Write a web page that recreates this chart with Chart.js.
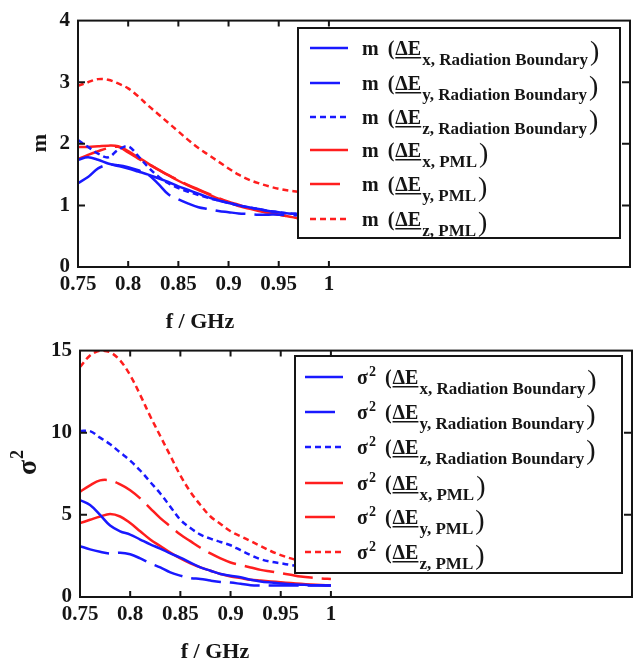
<!DOCTYPE html>
<html>
<head>
<meta charset="utf-8">
<script src="https://cdn.jsdelivr.net/npm/chart.js@4"></script>
<style>
body { margin: 0; background: #fff; }
#wrap { position: relative; width: 634px; height: 662px; }
canvas { position: absolute; left: 0; }
</style>
</head>
<body>
<div id="wrap">
<canvas id="chartM" width="634" height="330" style="top:0"></canvas>
<canvas id="chartS" width="634" height="332" style="top:330px"></canvas>
</div>
<script>
// frequency samples (GHz)
const freq = [0.75, 0.76, 0.77, 0.78, 0.79, 0.80, 0.81, 0.82, 0.83, 0.84, 0.85, 0.86, 0.87,
              0.88, 0.89, 0.90, 0.91, 0.92, 0.93, 0.94, 0.95, 0.96, 0.97, 0.98, 0.99, 1.00];
const xTicks = [0.75, 0.8, 0.85, 0.9, 0.95, 1];
const mTicks = [0, 1, 2, 3, 4];
const s2Ticks = [0, 5, 10, 15];
const legendSubs = ['x, Radiation Boundary', 'y, Radiation Boundary', 'z, Radiation Boundary',
                    'x, PML', 'y, PML', 'z, PML'];

// mean m
const mXRad = [1.74, 1.78, 1.74, 1.68, 1.64, 1.60, 1.55, 1.50, 1.44, 1.38, 1.31, 1.25, 1.19, 1.13, 1.08, 1.04, 1.00, 0.97, 0.94, 0.91, 0.89, 0.87, 0.86, 0.85, 0.84, 0.83];
const mYRad = [1.36, 1.46, 1.60, 1.66, 1.65, 1.62, 1.57, 1.50, 1.35, 1.18, 1.10, 1.03, 0.97, 0.94, 0.91, 0.89, 0.87, 0.86, 0.85, 0.85, 0.85, 0.84, 0.84, 0.83, 0.83, 0.82];
const mZRad = [2.06, 1.95, 1.84, 1.78, 1.90, 1.96, 1.80, 1.62, 1.47, 1.36, 1.28, 1.22, 1.17, 1.12, 1.08, 1.04, 1.00, 0.97, 0.94, 0.91, 0.89, 0.87, 0.86, 0.85, 0.84, 0.83];
const mXPml = [1.95, 1.95, 1.96, 1.97, 1.96, 1.88, 1.78, 1.68, 1.58, 1.49, 1.40, 1.32, 1.25, 1.18, 1.11, 1.05, 0.99, 0.95, 0.91, 0.88, 0.85, 0.82, 0.79, 0.77, 0.75, 0.74];
const mYPml = [1.75, 1.82, 1.88, 1.93, 1.95, 1.86, 1.76, 1.67, 1.58, 1.49, 1.41, 1.33, 1.26, 1.19, 1.12, 1.06, 1.01, 0.96, 0.92, 0.88, 0.85, 0.82, 0.79, 0.77, 0.75, 0.74];
const mZPml = [2.94, 3.00, 3.05, 3.04, 2.98, 2.90, 2.77, 2.62, 2.48, 2.34, 2.20, 2.06, 1.93, 1.82, 1.71, 1.60, 1.50, 1.42, 1.36, 1.31, 1.27, 1.24, 1.22, 1.20, 1.18, 1.16];

// variance sigma^2
const s2XRad = [5.9, 5.6, 5.0, 4.35, 4.0, 3.8, 3.5, 3.2, 2.95, 2.65, 2.4, 2.1, 1.8, 1.6, 1.4, 1.3, 1.2, 1.05, 0.95, 0.88, 0.82, 0.78, 0.75, 0.72, 0.71, 0.7];
const s2YRad = [3.1, 2.9, 2.75, 2.65, 2.7, 2.6, 2.35, 2.05, 1.8, 1.5, 1.3, 1.15, 1.1, 1.0, 0.92, 0.88, 0.8, 0.72, 0.7, 0.7, 0.7, 0.7, 0.7, 0.7, 0.7, 0.7];
const s2ZRad = [10.1, 10.1, 9.7, 9.3, 8.8, 8.3, 7.7, 7.0, 6.3, 5.5, 4.7, 4.2, 3.8, 3.55, 3.35, 3.15, 2.85, 2.55, 2.3, 2.15, 2.05, 1.95, 1.85, 1.75, 1.7, 1.65];
const s2XPml = [4.5, 4.7, 4.9, 5.05, 4.9, 4.5, 4.0, 3.5, 3.1, 2.7, 2.35, 2.05, 1.8, 1.6, 1.4, 1.25, 1.15, 1.05, 1.0, 0.95, 0.9, 0.85, 0.8, 0.76, 0.73, 0.7];
const s2YPml = [6.4, 6.8, 7.1, 7.1, 6.85, 6.5, 6.0, 5.4, 4.8, 4.3, 3.8, 3.4, 3.0, 2.65, 2.35, 2.1, 1.95, 1.8, 1.65, 1.55, 1.45, 1.35, 1.25, 1.18, 1.13, 1.1];
const s2ZPml = [14.0, 14.7, 15.0, 14.9, 14.4, 13.5, 12.3, 11.0, 9.8, 8.6, 7.4, 6.4, 5.6, 4.9, 4.45, 4.0, 3.7, 3.4, 3.1, 2.8, 2.55, 2.35, 2.2, 2.05, 1.95, 1.85];

const BLUE = 'rgb(25,25,255)';
const RED = 'rgb(255,30,30)';
const styles = [
  { color: BLUE, dash: [] }, { color: BLUE, dash: [30, 9] }, { color: BLUE, dash: [6, 4] },
  { color: RED, dash: [] }, { color: RED, dash: [30, 9] }, { color: RED, dash: [6, 4] }
];
const INK = '#151515';
const SERIF = '"Liberation Serif", "DejaVu Serif", serif';

function framePlugin(o) {
  return {
    id: 'frame',
    afterDatasetsDraw(chart) {
      const ctx = chart.ctx;
      const a = chart.chartArea;
      const xs = chart.scales.x, ys = chart.scales.y;
      ctx.save();
      // legend box
      const b = o.box;
      ctx.fillStyle = '#fff';
      ctx.fillRect(b.x, b.y, b.w, b.h);
      ctx.lineWidth = 2;
      ctx.strokeStyle = INK;
      ctx.strokeRect(b.x, b.y, b.w, b.h);
      o.rows.forEach((ry, i) => {
        const st = styles[i];
        ctx.strokeStyle = st.color;
        ctx.lineWidth = 2.5;
        ctx.setLineDash(st.dash);
        ctx.beginPath();
        ctx.moveTo(o.lineX0, ry);
        ctx.lineTo(o.lineX0 + 38, ry);
        ctx.stroke();
        ctx.setLineDash([]);

        ctx.fillStyle = INK;
        ctx.textAlign = 'left';
        ctx.textBaseline = 'alphabetic';
        const base = ry + 7;
        let tx = o.textX;
        ctx.font = 'bold 20px ' + SERIF;
        if (o.prefix === 'm') {
          ctx.fillText('m', tx, base);
          tx += ctx.measureText('m').width;
        } else {
          ctx.fillText('σ', tx, base);
          tx += ctx.measureText('σ').width + 1;
          ctx.font = 'bold 14px ' + SERIF;
          ctx.fillText('2', tx, base - 8);
          tx += ctx.measureText('2').width;
          ctx.font = 'bold 20px ' + SERIF;
        }
        tx += 9;
        ctx.fillText('(', tx, base);
        tx += ctx.measureText('(').width + 1;
        ctx.fillText('ΔE', tx, base);
        const we = ctx.measureText('ΔE').width;
        ctx.fillRect(tx, base + 2, we, 1.5);
        tx += we + 1;
        ctx.font = 'bold 17px ' + SERIF;
        ctx.fillText(legendSubs[i], tx, ry + 17);
        tx += ctx.measureText(legendSubs[i]).width + 2;
        ctx.font = '28px ' + SERIF;
        ctx.fillText(')', tx, ry + 12);
      });

      // axes frame with inward ticks
      ctx.strokeStyle = INK;
      ctx.lineWidth = 2;
      ctx.strokeRect(a.left, a.top, a.right - a.left, a.bottom - a.top);
      ctx.beginPath();
      xTicks.forEach(v => {
        if (v === xTicks[0]) return;
        const px = xs.getPixelForValue(v);
        ctx.moveTo(px, a.bottom); ctx.lineTo(px, a.bottom - 6);
        ctx.moveTo(px, a.top); ctx.lineTo(px, a.top + 6);
      });
      o.yTicks.forEach(v => {
        if (v === o.yTicks[0] || v === o.yTicks[o.yTicks.length - 1]) return;
        const py = ys.getPixelForValue(v);
        ctx.moveTo(a.left, py); ctx.lineTo(a.left + 7, py);
        ctx.moveTo(a.right, py); ctx.lineTo(a.right - 8, py);
      });
      ctx.stroke();
      ctx.restore();
    },
    afterDraw(chart) {
      const ctx = chart.ctx;
      ctx.save();
      ctx.fillStyle = INK;
      ctx.font = 'bold 22px ' + SERIF;
      ctx.textAlign = 'center';
      ctx.textBaseline = 'middle';
      ctx.fillText('f / GHz', o.xTitle.x, o.xTitle.y);
      ctx.translate(o.yTitle.x, o.yTitle.y);
      ctx.rotate(-Math.PI / 2);
      if (o.prefix === 'm') {
        ctx.fillText('m', 0, 0);
      } else {
        ctx.textAlign = 'left';
        ctx.font = 'bold 28px ' + SERIF;
        const w1 = ctx.measureText('σ').width;
        ctx.font = 'bold 18px ' + SERIF;
        const w2 = ctx.measureText('2').width;
        const x0 = -(w1 + w2) / 2;
        ctx.font = 'bold 28px ' + SERIF;
        ctx.fillText('σ', x0, 2);
        ctx.font = 'bold 18px ' + SERIF;
        ctx.fillText('2', x0 + w1 + 1, -9);
      }
      ctx.restore();
    }
  };
}

function makeChart(id, o) {
  const tickFont = { family: SERIF, size: 21, weight: 'bold' };
  return new Chart(document.getElementById(id), {
    type: 'line',
    data: {
      datasets: o.series.map((vals, i) => ({
        data: freq.map((f, j) => ({ x: f, y: vals[j] })),
        borderColor: styles[i].color,
        borderDash: styles[i].dash,
        borderWidth: 2.5,
        pointRadius: 0,
        tension: 0.35,
        fill: false
      }))
    },
    options: {
      responsive: false,
      animation: false,
      devicePixelRatio: 1,
      layout: { padding: { top: 15, right: o.rightPad, left: 0, bottom: 0 } },
      plugins: { legend: { display: false }, tooltip: { enabled: false } },
      scales: {
        x: {
          type: 'linear', min: 0.75, max: 1.3,
          grid: { display: false, drawTicks: false },
          border: { display: false },
          afterBuildTicks: s => { s.ticks = xTicks.map(v => ({ value: v })); },
          afterFit: s => { s.height = o.xAxisHeight; },
          ticks: { autoSkip: false, maxRotation: 0, padding: 5, color: INK, font: tickFont,
                   callback: v => String(v) }
        },
        y: {
          min: 0, max: o.yTicks[o.yTicks.length - 1],
          grid: { display: false, drawTicks: false },
          border: { display: false },
          afterBuildTicks: s => { s.ticks = o.yTicks.map(v => ({ value: v })); },
          afterFit: s => { s.width = o.chartLeft; },
          ticks: { padding: 8, color: INK, font: tickFont, callback: v => String(v) }
        }
      }
    },
    plugins: [framePlugin(o)]
  });
}

makeChart('chartM', {
  series: [mXRad, mYRad, mZRad, mXPml, mYPml, mZPml],
  yTicks: mTicks, prefix: 'm',
  chartLeft: 78, rightPad: 4, xAxisHeight: 63,
  box: { x: 298, y: 28, w: 322, h: 210 },
  rows: [48, 83, 117, 150, 184, 219],
  lineX0: 310, textX: 362,
  xTitle: { x: 200, y: 322 }, yTitle: { x: 40, y: 143 }
});

makeChart('chartS', {
  series: [s2XRad, s2YRad, s2ZRad, s2XPml, s2YPml, s2ZPml],
  yTicks: s2Ticks, prefix: 's2',
  chartLeft: 80, rightPad: 2, xAxisHeight: 65,
  box: { x: 295, y: 26, w: 327, h: 217 },
  rows: [47, 82, 117, 153, 187, 222],
  lineX0: 305, textX: 357,
  xTitle: { x: 215, y: 322 }, yTitle: { x: 27, y: 133 }
});
</script>
</body>
</html>
